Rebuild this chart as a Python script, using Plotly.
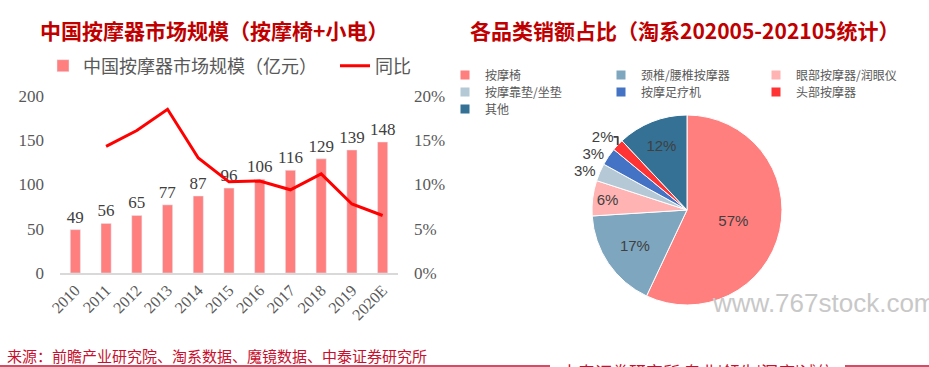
import plotly.graph_objects as go

# ---- data ----
years = ["2010", "2011", "2012", "2013", "2014", "2015", "2016", "2017", "2018", "2019", "2020E"]
market_size = [49, 56, 65, 77, 87, 96, 106, 116, 129, 139, 148]
yoy_pct = [None, 14.3, 16.1, 18.5, 13.0, 10.3, 10.4, 9.4, 11.2, 7.8, 6.5]

pie_labels = ["按摩椅", "颈椎/腰椎按摩器", "眼部按摩器/润眼仪", "按摩靠垫/坐垫", "按摩足疗机", "头部按摩器", "其他"]
pie_values = [57, 17, 6, 3, 3, 2, 12]
pie_colors = ["#FF7F7F", "#7FA6BF", "#FFB3B3", "#B4C8D6", "#4472C4", "#FF3333", "#347195"]
pie_textpos = ["inside", "inside", "inside", "outside", "outside", "outside", "inside"]

W, H = 929, 367
SERIF = "Liberation Serif, Noto Sans CJK SC"
CJK = "Noto Sans CJK SC"
GRAY = "#595959"

fig = go.Figure()

fig.add_trace(go.Bar(
    x=years, y=market_size, name="中国按摩器市场规模（亿元）",
    marker=dict(color="#FF7F7F"),
    text=[str(v) for v in market_size], textposition="outside", constraintext="none",
    textfont=dict(family=SERIF, size=17, color="#404040"),
    cliponaxis=False, legend="legend",
))
fig.add_trace(go.Scatter(
    x=years, y=yoy_pct, name="同比", mode="lines",
    line=dict(color="#FF0000", width=3), yaxis="y2", legend="legend9",
))
fig.add_trace(go.Pie(
    labels=pie_labels, values=pie_values, sort=False, direction="clockwise",
    rotation=0, marker=dict(colors=pie_colors, line=dict(color="white", width=1)),
    texttemplate="%{value}%", textposition=pie_textpos,
    textfont=dict(family="Liberation Sans, Arial", size=15, color="#404040"),
    insidetextorientation="horizontal",
    domain=dict(x=[(687 - 95) / W, (687 + 95) / W], y=[(H - 305) / H, (H - 115) / H]),
    showlegend=False,
))

# legend entries for the pie categories: 3-column grid, one small legend per cell
col_x = [445, 601, 756]
row_y = [75, 92, 109]
leg_layout = {}
for i, (lab, col) in enumerate(zip(pie_labels, pie_colors)):
    name = "legend%d" % (i + 2)
    fig.add_trace(go.Scatter(
        x=[None], y=[None], mode="markers", name=lab,
        marker=dict(symbol="square", size=9, color=col), legend=name, showlegend=True,
    ))
    leg_layout[name] = dict(x=col_x[i % 3] / W, y=(H - row_y[i // 3]) / H,
                            xanchor="left", yanchor="middle", orientation="v",
                            font=dict(family=CJK, size=12, color=GRAY),
                            itemwidth=30, bgcolor="rgba(0,0,0,0)")

x0, x1 = 60 / W, 398 / W
fig.update_layout(
    width=W, height=H, margin=dict(l=0, r=0, t=0, b=0, autoexpand=False),
    paper_bgcolor="white", plot_bgcolor="white",
    bargap=0.67,
    xaxis=dict(domain=[x0, x1], type="category", tickangle=-45, automargin=False,
               tickfont=dict(family=SERIF, size=16, color=GRAY),
               showline=True, linecolor="#D9D9D9", linewidth=1.5, showgrid=False,
               ticks=""),
    yaxis=dict(domain=[(H - 273) / H, (H - 96) / H], range=[0, 200], dtick=50, automargin=False,
               showgrid=False, zeroline=False, showline=False,
               tickfont=dict(family=SERIF, size=17, color=GRAY), ticklabelstandoff=15),
    yaxis2=dict(overlaying="y", side="right", range=[0, 20], dtick=5, ticksuffix="%",
                showgrid=False, zeroline=False, showline=False, automargin=False,
                tickfont=dict(family=SERIF, size=17, color=GRAY), ticklabelstandoff=15,
                anchor="x"),
    legend=dict(x=43 / W, y=(H - 66) / H, xanchor="left", yanchor="middle", orientation="v",
                font=dict(family=CJK, size=18, color=GRAY), itemwidth=30,
                bgcolor="rgba(0,0,0,0)"),
    legend9=dict(x=335 / W, y=(H - 66) / H, xanchor="left", yanchor="middle", orientation="v",
                 font=dict(family=CJK, size=18, color=GRAY), itemwidth=30,
                 bgcolor="rgba(0,0,0,0)"),
    **leg_layout,
)

annos = [
    dict(text="<b>中国按摩器市场规模（按摩椅+小电）</b>", x=214 / W, y=(H - 30) / H,
         font=dict(family=CJK, size=21, color="#C00000")),
    dict(text="<b>各品类销额占比（淘系202005-202105统计）</b>", x=684 / W, y=(H - 30) / H,
         font=dict(family=CJK, size=21, color="#C00000")),
    dict(text="来源：前瞻产业研究院、淘系数据、魔镜数据、中泰证券研究所", x=5 / W, y=(H - 355) / H,
         xanchor="left", font=dict(family=CJK, size=15, color="#C8102E")),
    dict(text="www.767stock.com", x=710 / W, y=(H - 303) / H, xanchor="left",
         font=dict(family="Liberation Sans, Arial", size=26, color="#C8C8C8")),
    dict(text="中泰证券研究所 专业|领先|深度|诚信", x=697 / W, y=(H - 371) / H,
         font=dict(family=CJK, size=17, color="#C8102E")),
]
for a in annos:
    a.setdefault("xanchor", "center")
    a.update(xref="paper", yref="paper", showarrow=False, yanchor="middle")
    fig.add_annotation(**a)

fig.update_layout(shapes=[
    dict(type="line", xref="paper", yref="paper", x0=0, x1=550 / W, y0=(H - 366) / H, y1=(H - 366) / H,
         line=dict(color="#C8102E", width=1.5)),
    dict(type="line", xref="paper", yref="paper", x0=845 / W, x1=1, y0=(H - 366) / H, y1=(H - 366) / H,
         line=dict(color="#C8102E", width=1.5)),
])

fig.write_html("out.html", config={"displayModeBar": False},
               post_script="document.body.style.margin='0';document.body.style.overflow='hidden';")
